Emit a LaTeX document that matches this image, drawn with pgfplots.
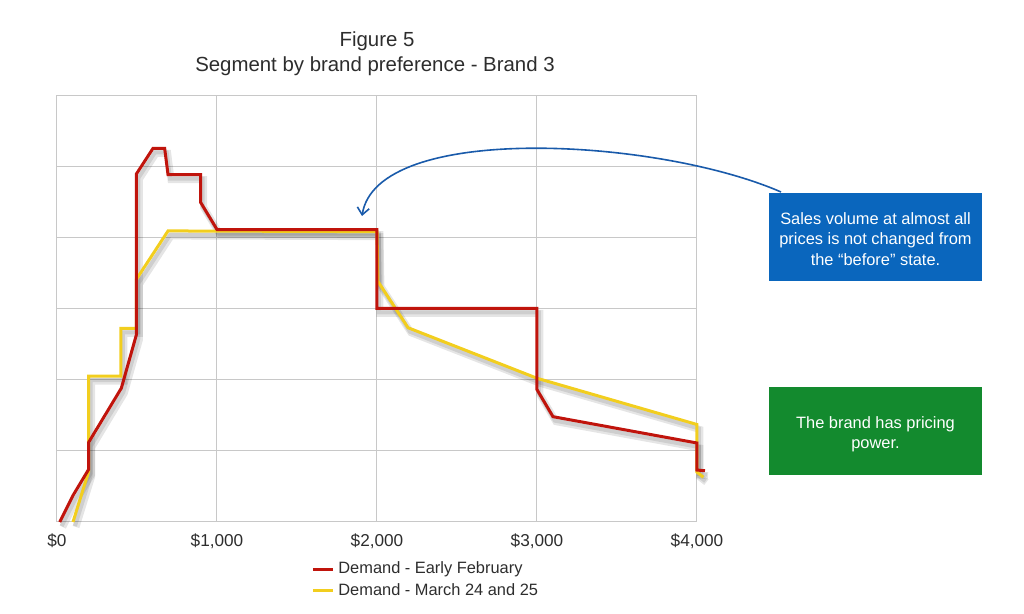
\documentclass[border=0pt]{standalone}
\usepackage{pgfplots}
\pgfplotsset{compat=1.18}
\usepackage{fontspec}
\setmainfont{Liberation Sans}
\usetikzlibrary{arrows.meta}
\definecolor{redl}{RGB}{192,20,12}
\definecolor{yell}{RGB}{242,206,30}
\definecolor{boxblue}{RGB}{10,102,189}
\definecolor{boxgreen}{RGB}{19,138,46}
\definecolor{arrowblue}{RGB}{25,90,170}
\definecolor{gridg}{RGB}{200,200,200}
\definecolor{txt}{RGB}{45,45,45}

\pgfplotstableread{
x y
17 0
102 0.38
198 0.74
198 1.12
402 1.88
496 2.63
496 4.89
600 5.25
673 5.25
694 4.88
898 4.88
898 4.49
1000 4.11
2000 4.11
2000 3.0
3000 3.0
3000 1.86
3100 1.48
4000 1.11
4000 0.73
4050 0.72
}\redtable

\pgfplotstableread{
x y
100 0
198 0.71
198 2.05
400 2.05
400 2.72
496 2.72
496 3.41
694 4.09
2000 4.08
2006 3.38
2194 2.73
3000 2.02
4000 1.37
4000 0.70
4040 0.63
}\yeltable

\begin{document}
\begin{tikzpicture}
\begin{axis}[
  at={(0,0)}, anchor=south west,
  scale only axis, width=320pt, height=213.5pt,
  xmin=0, xmax=4000, ymin=0, ymax=6,
  clip=false,
  grid=major,
  major grid style={gridg, line width=0.5pt},
  axis line style={gridg, line width=0.5pt},
  xtick={0,1000,2000,3000,4000},
  xticklabels={{\$0},{\$1,000},{\$2,000},{\$3,000},{\$4,000}},
  ytick={1,2,3,4,5},
  yticklabels={},
  major tick length=0pt,
  xticklabel style={font=\fontsize{8.6}{10}\selectfont, text=txt, yshift=-2.5pt},
  legend style={at={(0.3875,-0.073)}, anchor=north west, draw=none, fill=none,
    font=\fontsize{8.2}{9.5}\selectfont, text=txt, row sep=-0.5pt},
  legend cell align=left,
  reverse legend,
  legend image code/.code={\draw[#1, line width=1.5pt] (0pt,0pt) -- (10pt,0pt);},
]
\addplot[black, opacity=0.10, line width=3.5pt, xshift=1.5pt, yshift=-2.5pt, forget plot] table[x=x,y=y] {\yeltable};
\addplot[black, opacity=0.10, line width=3.5pt, xshift=1.5pt, yshift=-2.5pt, forget plot] table[x=x,y=y] {\redtable};
\addplot[black, opacity=0.10, line width=2pt, xshift=1pt, yshift=-2pt, forget plot] table[x=x,y=y] {\yeltable};
\addplot[black, opacity=0.10, line width=2pt, xshift=1pt, yshift=-2pt, forget plot] table[x=x,y=y] {\redtable};
\addplot[yell, line width=1.5pt, line join=miter] table[x=x,y=y] {\yeltable};
\addlegendentry{Demand - March 24 and 25}
\addplot[redl, line width=1.5pt, line join=miter] table[x=x,y=y] {\redtable};
\addlegendentry{Demand - Early February}
\end{axis}
% titles
\node[anchor=base, text=txt, font=\fontsize{10.2}{12}\selectfont, inner sep=0pt] at (160pt,237.5pt) {Figure 5};
\node[anchor=base, text=txt, font=\fontsize{10.2}{12}\selectfont, inner sep=0pt] at (159pt,225pt) {Segment by brand preference - Brand 3};
% boxes
\fill[boxblue] (356pt,120.5pt) rectangle (462.5pt,164.5pt);
\node[text=white, align=center, font=\fontsize{8.2}{10.25}\selectfont, inner sep=0pt] at (409.25pt,141.5pt) {Sales volume at almost all\\prices is not changed from\\the “before” state.};
\fill[boxgreen] (356pt,23.5pt) rectangle (462.5pt,67.5pt);
\node[text=white, align=center, font=\fontsize{8.2}{10.25}\selectfont, inner sep=0pt] at (409.25pt,43.8pt) {The brand has pricing\\power.};
% arrow
\draw[arrowblue, line width=0.8pt, -{Straight Barb[length=3.5pt,width=6pt]}] (362pt,165pt) .. controls (300pt,192pt) and (160pt,200pt) .. (152.5pt,153pt);
% bounding box
\useasboundingbox (-28.5pt,-46pt) rectangle (483.5pt,261pt);
\end{tikzpicture}
\end{document}
